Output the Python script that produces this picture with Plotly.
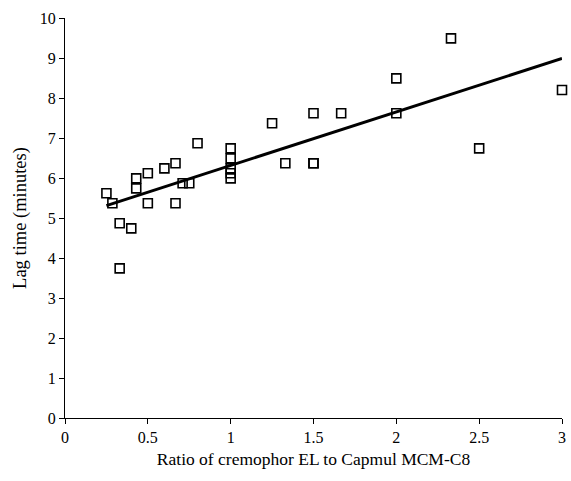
import plotly.graph_objects as go

ratio = [0.25, 0.286, 0.33, 0.33, 0.40, 0.43, 0.43, 0.5, 0.5, 0.6, 0.667, 0.667,
         0.71, 0.75, 0.8, 1.0, 1.0, 1.0, 1.0, 1.0, 1.25, 1.33, 1.5, 1.5, 1.5,
         1.667, 2.0, 2.0, 2.33, 2.5, 3.0]
lag = [5.62, 5.37, 4.87, 3.74, 4.74, 5.99, 5.74, 6.12, 5.37, 6.24, 6.37, 5.37,
       5.87, 5.87, 6.87, 6.74, 6.49, 6.24, 6.12, 5.99, 7.37, 6.37, 7.62, 6.37, 6.37,
       7.62, 8.49, 7.62, 9.49, 6.74, 8.2]
fit_slope = 1.338
fit_intercept = 4.975
fit_x = [0.25, 3.0]
fit_y = [fit_intercept + fit_slope * v for v in fit_x]

x_ticks = [0, 0.5, 1, 1.5, 2, 2.5, 3]
x_ticklabels = ["0", "0.5", "1", "1.5", "2", "2.5", "3"]
y_ticks = list(range(0, 11))

font = "Liberation Serif, Times New Roman, serif"

fig = go.Figure()
fig.add_trace(go.Scatter(x=fit_x, y=fit_y, mode="lines", cliponaxis=False,
                         line=dict(color="black", width=3), showlegend=False))
fig.add_trace(go.Scatter(x=ratio, y=lag, mode="markers", cliponaxis=False,
                         marker=dict(symbol="square-open", size=9,
                                     color="black", line=dict(width=1.6)),
                         showlegend=False))

fig.update_layout(
    width=571, height=481,
    margin=dict(l=65, r=5, t=18, b=63),
    paper_bgcolor="white", plot_bgcolor="white",
    font=dict(family=font, size=16, color="black"),
    xaxis=dict(range=[0, 3], tickvals=x_ticks, ticktext=x_ticklabels,
               showgrid=False, zeroline=False, showline=True, linecolor="black",
               linewidth=1, ticks="outside", ticklen=5, tickcolor="black",
               tickfont=dict(family=font, size=16, color="black"),
               title=dict(text="Ratio of cremophor EL to Capmul MCM-C8",
                          font=dict(family=font, size=17.5, color="black"), standoff=7)),
    yaxis=dict(range=[0, 10], tickvals=y_ticks,
               showgrid=False, zeroline=False, showline=True, linecolor="black",
               linewidth=1, ticks="outside", ticklen=5, tickcolor="black",
               tickfont=dict(family=font, size=16, color="black"),
               title=dict(text="Lag time (minutes)",
                          font=dict(family=font, size=18.5, color="black"), standoff=8)),
)

fig.write_html("out.html")
